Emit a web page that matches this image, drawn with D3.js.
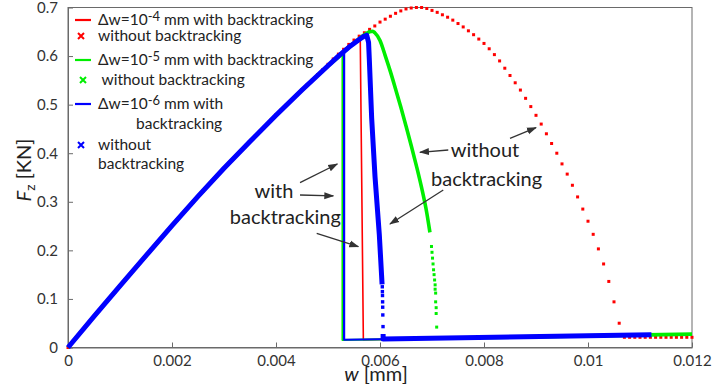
<!DOCTYPE html>
<html>
<head>
<meta charset="utf-8">
<script src="https://cdn.jsdelivr.net/npm/d3@7"></script>
<style>
  body { margin: 0; background: #fff; }
  svg { display: block; font-family: Lato, "Open Sans", sans-serif; }
</style>
</head>
<body>
<div id="app"></div>
<script>
const MARGIN = { top: 7.5, right: 27, bottom: 36.5, left: 68 };
const OUTER = { width: 719, height: 384 };
const INNER = {
  width: OUTER.width - MARGIN.left - MARGIN.right,
  height: OUTER.height - MARGIN.top - MARGIN.bottom,
};

const X_TICKS = [0, 0.002, 0.004, 0.006, 0.008, 0.01, 0.012];
const X_TICK_LABELS = ["0", "0.002", "0.004", "0.006", "0.008", "0.01", "0.012"];
const Y_TICKS = [0, 0.1, 0.2, 0.3, 0.4, 0.5, 0.6, 0.7];
const Y_TICK_LABELS = ["0", "0.1", "0.2", "0.3", "0.4", "0.5", "0.6", "0.7"];

// loading branch common to all runs (w [mm], Fz [kN])
const riseW = [0, 0.0005, 0.001, 0.0015, 0.002, 0.0025, 0.003, 0.0035, 0.004, 0.0045, 0.005];
const riseF = [0, 0.064, 0.127, 0.189, 0.251, 0.311, 0.369, 0.424, 0.478, 0.53, 0.58];

// dw=1e-4, with backtracking (thin red line)
const redBtW = [0.0052, 0.0054, 0.00562, 0.00568, 0.012];
const redBtF = [0.602, 0.622, 0.637, 0.016, 0.027];

// dw=1e-4, without backtracking: one marker every 1e-4 mm
const redWoStep = 0.0001;
const redWoF = [
  0, 0.013, 0.026, 0.038, 0.051, 0.064, 0.076, 0.089, 0.102, 0.114,
  0.127, 0.139, 0.152, 0.164, 0.177, 0.189, 0.202, 0.214, 0.226, 0.239,
  0.251, 0.263, 0.275, 0.287, 0.299, 0.311, 0.322, 0.334, 0.346, 0.358,
  0.369, 0.38, 0.391, 0.402, 0.413, 0.424, 0.435, 0.446, 0.457, 0.468,
  0.479, 0.489, 0.5, 0.51, 0.52, 0.531, 0.541, 0.551, 0.562, 0.572,
  0.583, 0.594, 0.604, 0.614, 0.624, 0.633, 0.641, 0.648, 0.655, 0.662,
  0.67, 0.676, 0.682, 0.688, 0.693, 0.697, 0.699, 0.7, 0.7, 0.698,
  0.694, 0.69, 0.685, 0.68, 0.674, 0.667, 0.66, 0.652, 0.644, 0.635,
  0.626, 0.615, 0.603, 0.59, 0.575, 0.56, 0.545, 0.53, 0.513, 0.496,
  0.478, 0.46, 0.44, 0.42, 0.4, 0.378, 0.357, 0.334, 0.31, 0.285,
  0.26, 0.233, 0.203, 0.172, 0.136, 0.094, 0.05, 0.021, 0.021, 0.021,
  0.021, 0.021, 0.021, 0.021, 0.021, 0.021, 0.021, 0.021, 0.021, 0.021,
  0.021,
];

// dw=1e-5, with backtracking
const greenBtW = [0.0052, 0.00528, 0.00528, 0.012];
const greenBtF = [0.598, 0.606, 0.0154, 0.027];

// dw=1e-5, without backtracking
const greenWoW = [0.0052, 0.0054, 0.0056, 0.0057, 0.0058, 0.00586, 0.0059, 0.006, 0.0061, 0.0062, 0.0063, 0.0064, 0.0065, 0.0066, 0.0067, 0.0068, 0.0069, 0.00696];
const greenWoF = [0.598, 0.618, 0.636, 0.644, 0.65, 0.651, 0.648, 0.632, 0.601, 0.568, 0.532, 0.495, 0.456, 0.416, 0.374, 0.329, 0.277, 0.237];
const greenDotW = [0.00699, 0.007, 0.00701, 0.00702, 0.00703, 0.00704, 0.00705, 0.00706, 0.00706, 0.00707, 0.00707, 0.00708, 0.00708, 0.00709];
const greenDotF = [0.208, 0.196, 0.184, 0.172, 0.16, 0.15, 0.139, 0.129, 0.12, 0.112, 0.094, 0.082, 0.07, 0.042];
const greenTailW = [0.00709, 0.012];
const greenTailF = [0.019, 0.0275];

// dw=1e-6, with backtracking
const blueBtW = [0.0052, 0.00531, 0.00531, 0.0112];
const blueBtF = [0.598, 0.609, 0.016, 0.025];

// dw=1e-6, without backtracking
const blueWoW = [0.0052, 0.0054, 0.0056, 0.00568, 0.005744, 0.00578, 0.005795, 0.00584, 0.005904, 0.005987, 0.00604];
const blueWoF = [0.6, 0.618, 0.634, 0.64, 0.643, 0.628, 0.592, 0.472, 0.352, 0.232, 0.13];
const blueDotW = [0.006044, 0.006046, 0.006048, 0.00605, 0.006052, 0.006054, 0.006058];
const blueDotF = [0.125, 0.115, 0.107, 0.094, 0.083, 0.067, 0.043];
const blueTailW = [0.00606, 0.00606, 0.01122];
const blueTailF = [0.028, 0.0175, 0.026];

const LEGEND = [
  { color: "#ff0000", kind: "line", exp: "-4", text: ["with backtracking"] },
  { color: "#ff0000", kind: "x", text: ["without backtracking"] },
  { color: "#00ee00", kind: "line", exp: "-5", text: ["with backtracking"] },
  { color: "#00ee00", kind: "x", text: ["without backtracking"] },
  { color: "#0000ff", kind: "line", exp: "-6", text: ["with", "backtracking"] },
  { color: "#0000ff", kind: "x", text: ["without", "backtracking"] },
];

// annotation labels and arrows, in data units
const NOTES = [
  { w: 0.00396, f: 0.325, lines: ["with"] },
  { w: 0.00418, f: 0.27, lines: ["backtracking"] },
  { w: 0.00802, f: 0.408, lines: ["without"] },
  { w: 0.00805, f: 0.35, lines: ["backtracking"] },
];
const ARROWS = [
  [[0.004462, 0.3393], [0.005179, 0.3778]],
  [[0.004462, 0.314], [0.005102, 0.312]],
  [[0.004783, 0.2351], [0.005583, 0.2075]],
  [[0.007313, 0.4066], [0.006769, 0.4019]],
  [[0.007217, 0.3243], [0.006192, 0.2543]],
  [[0.0085, 0.4307], [0.009, 0.4525]],
];

const RED = "#ff0000", GREEN = "#00ee00", BLUE = "#0000ff";
const AXIS = "#6a6a6a", INK = "#222";

const xScale = d3.scaleLinear().domain([0, 0.012]).range([0, INNER.width]);
const yScale = d3.scaleLinear().domain([0, 0.7]).range([INNER.height, 0]);

const zip = (ws, fs) => ws.map((w, i) => [w, fs[i]]);

const line = d3.line()
  .x(d => xScale(d[0]))
  .y(d => yScale(d[1]));

const smooth = d3.line()
  .x(d => xScale(d[0]))
  .y(d => yScale(d[1]))
  .curve(d3.curveMonotoneX);

const rise = zip(riseW, riseF);

const addChart = () => {
  const svg = d3.select('#app')
    .append('svg')
    .attr('width', OUTER.width)
    .attr('height', OUTER.height);

  svg.append('defs').append('marker')
    .attr('id', 'arrow')
    .attr('viewBox', '0 0 10 10')
    .attr('refX', 9).attr('refY', 5)
    .attr('markerWidth', 10).attr('markerHeight', 10)
    .attr('markerUnits', 'userSpaceOnUse')
    .attr('orient', 'auto')
    .append('path')
    .attr('d', 'M0,1.5L10,5L0,8.5Z')
    .attr('fill', '#333');

  const g = svg.append('g')
    .attr('transform', `translate(${MARGIN.left}, ${MARGIN.top})`);

  // frame
  g.append('rect')
    .attr('width', INNER.width).attr('height', INNER.height)
    .attr('fill', 'none').attr('stroke', AXIS).attr('stroke-width', 1);

  const xAxis = g.append('g')
    .attr('class', 'x-axis')
    .attr('transform', `translate(0, ${INNER.height})`)
    .call(d3.axisBottom(xScale)
      .tickValues(X_TICKS)
      .tickFormat((d, i) => X_TICK_LABELS[i])
      .tickSizeInner(-5).tickSizeOuter(0).tickPadding(8));
  const yAxis = g.append('g')
    .attr('class', 'y-axis')
    .call(d3.axisLeft(yScale)
      .tickValues(Y_TICKS)
      .tickFormat((d, i) => Y_TICK_LABELS[i])
      .tickSizeInner(-5).tickSizeOuter(0).tickPadding(10));
  [xAxis, yAxis].forEach(a => {
    a.select('.domain').attr('stroke', AXIS);
    a.selectAll('.tick line').attr('stroke', AXIS);
    a.selectAll('.tick text')
      .attr('fill', '#333')
      .style('font-size', '15px')
      .style('font-family', 'Lato, sans-serif');
  });

  const path = (data, color, width, gen = line) => g.append('path')
    .datum(data)
    .attr('fill', 'none')
    .attr('stroke', color)
    .attr('stroke-width', width)
    .attr('stroke-linejoin', 'round')
    .attr('d', gen);

  const dots = (data, color, size) => g.append('g')
    .selectAll('rect')
    .data(data)
    .join('rect')
    .attr('x', d => xScale(d[0]) - size / 2)
    .attr('y', d => yScale(d[1]) - size / 2)
    .attr('width', size).attr('height', size)
    .attr('fill', color);

  path(rise.concat(zip(redBtW, redBtF)), RED, 1.6);
  path(rise.concat(zip(greenBtW, greenBtF)), GREEN, 2.2);
  path(rise.concat(zip(blueBtW, blueBtF)), BLUE, 2.2);
  dots(redWoF.map((f, i) => [i * redWoStep, f]), RED, 3);
  path(zip(greenTailW, greenTailF), GREEN, 3.6);
  path(rise.concat(zip(greenWoW, greenWoF)), GREEN, 3.6, smooth);
  dots(zip(greenDotW, greenDotF), GREEN, 3);
  path(zip(blueTailW, blueTailF), BLUE, 5);
  path(rise.concat(zip(blueWoW, blueWoF)), BLUE, 5);
  dots(zip(blueDotW, blueDotF), BLUE, 3.4);

  // annotations
  g.append('g').selectAll('line')
    .data(ARROWS)
    .join('line')
    .attr('x1', d => xScale(d[0][0])).attr('y1', d => yScale(d[0][1]))
    .attr('x2', d => xScale(d[1][0])).attr('y2', d => yScale(d[1][1]))
    .attr('stroke', '#333').attr('stroke-width', 1.3)
    .attr('marker-end', 'url(#arrow)');
  g.append('g').selectAll('text')
    .data(NOTES)
    .join('text')
    .attr('x', d => xScale(d.w)).attr('y', d => yScale(d.f))
    .attr('text-anchor', 'middle')
    .attr('dominant-baseline', 'central')
    .attr('fill', INK)
    .style('font-size', '20px')
    .text(d => d.lines[0]);

  // legend
  const rows = [20, 36, 60, 80, 104, 145];
  const lg = svg.append('g').style('font-size', '15.5px').attr('fill', INK);
  LEGEND.forEach((d, i) => {
    const y = rows[i];
    const item = lg.append('g').attr('transform', `translate(0, ${y})`);
    if (d.kind === 'line') {
      item.append('line')
        .attr('x1', 75).attr('x2', 91)
        .attr('stroke', d.color).attr('stroke-width', 2.2);
      const t = item.append('text').attr('x', 98).attr('dy', '0.35em');
      t.append('tspan').text('Δw=10');
      t.append('tspan').text(d.exp).attr('dy', -4).style('font-size', '13px');
      t.append('tspan').text(' mm ' + d.text[0]).attr('dy', 4);
      if (d.text[1]) {
        item.append('text').attr('x', 136).attr('y', 20).attr('dy', '0.35em').text(d.text[1]);
      }
    } else {
      const cx = i === 3 ? 83 : 81;
      item.append('path')
        .attr('transform', `translate(${cx}, 0)`)
        .attr('d', 'M-3,-3L3,3M-3,3L3,-3')
        .attr('stroke', d.color).attr('stroke-width', 2);
      const tx = i === 3 ? 101.5 : 98;
      item.append('text').attr('x', tx).attr('dy', '0.35em').text(d.text[0]);
      if (d.text[1]) {
        item.append('text').attr('x', 98).attr('y', 19).attr('dy', '0.35em').text(d.text[1]);
      }
    }
  });

  // axis titles
  const yt = svg.append('text')
    .attr('transform', `translate(31, 170) rotate(-90)`)
    .attr('text-anchor', 'middle')
    .attr('fill', INK)
    .style('font-size', '20px');
  yt.append('tspan').text('F').style('font-style', 'italic');
  yt.append('tspan').text('z').attr('dy', 4).style('font-size', '14px');
  yt.append('tspan').text(' [KN]').attr('dy', -4);

  const xt = svg.append('text')
    .attr('x', 376).attr('y', 381)
    .attr('text-anchor', 'middle')
    .attr('fill', INK)
    .style('font-size', '20px');
  xt.append('tspan').text('w').style('font-style', 'italic');
  xt.append('tspan').text(' [mm]');

  return g;
}

addChart();
</script>
</body>
</html>
